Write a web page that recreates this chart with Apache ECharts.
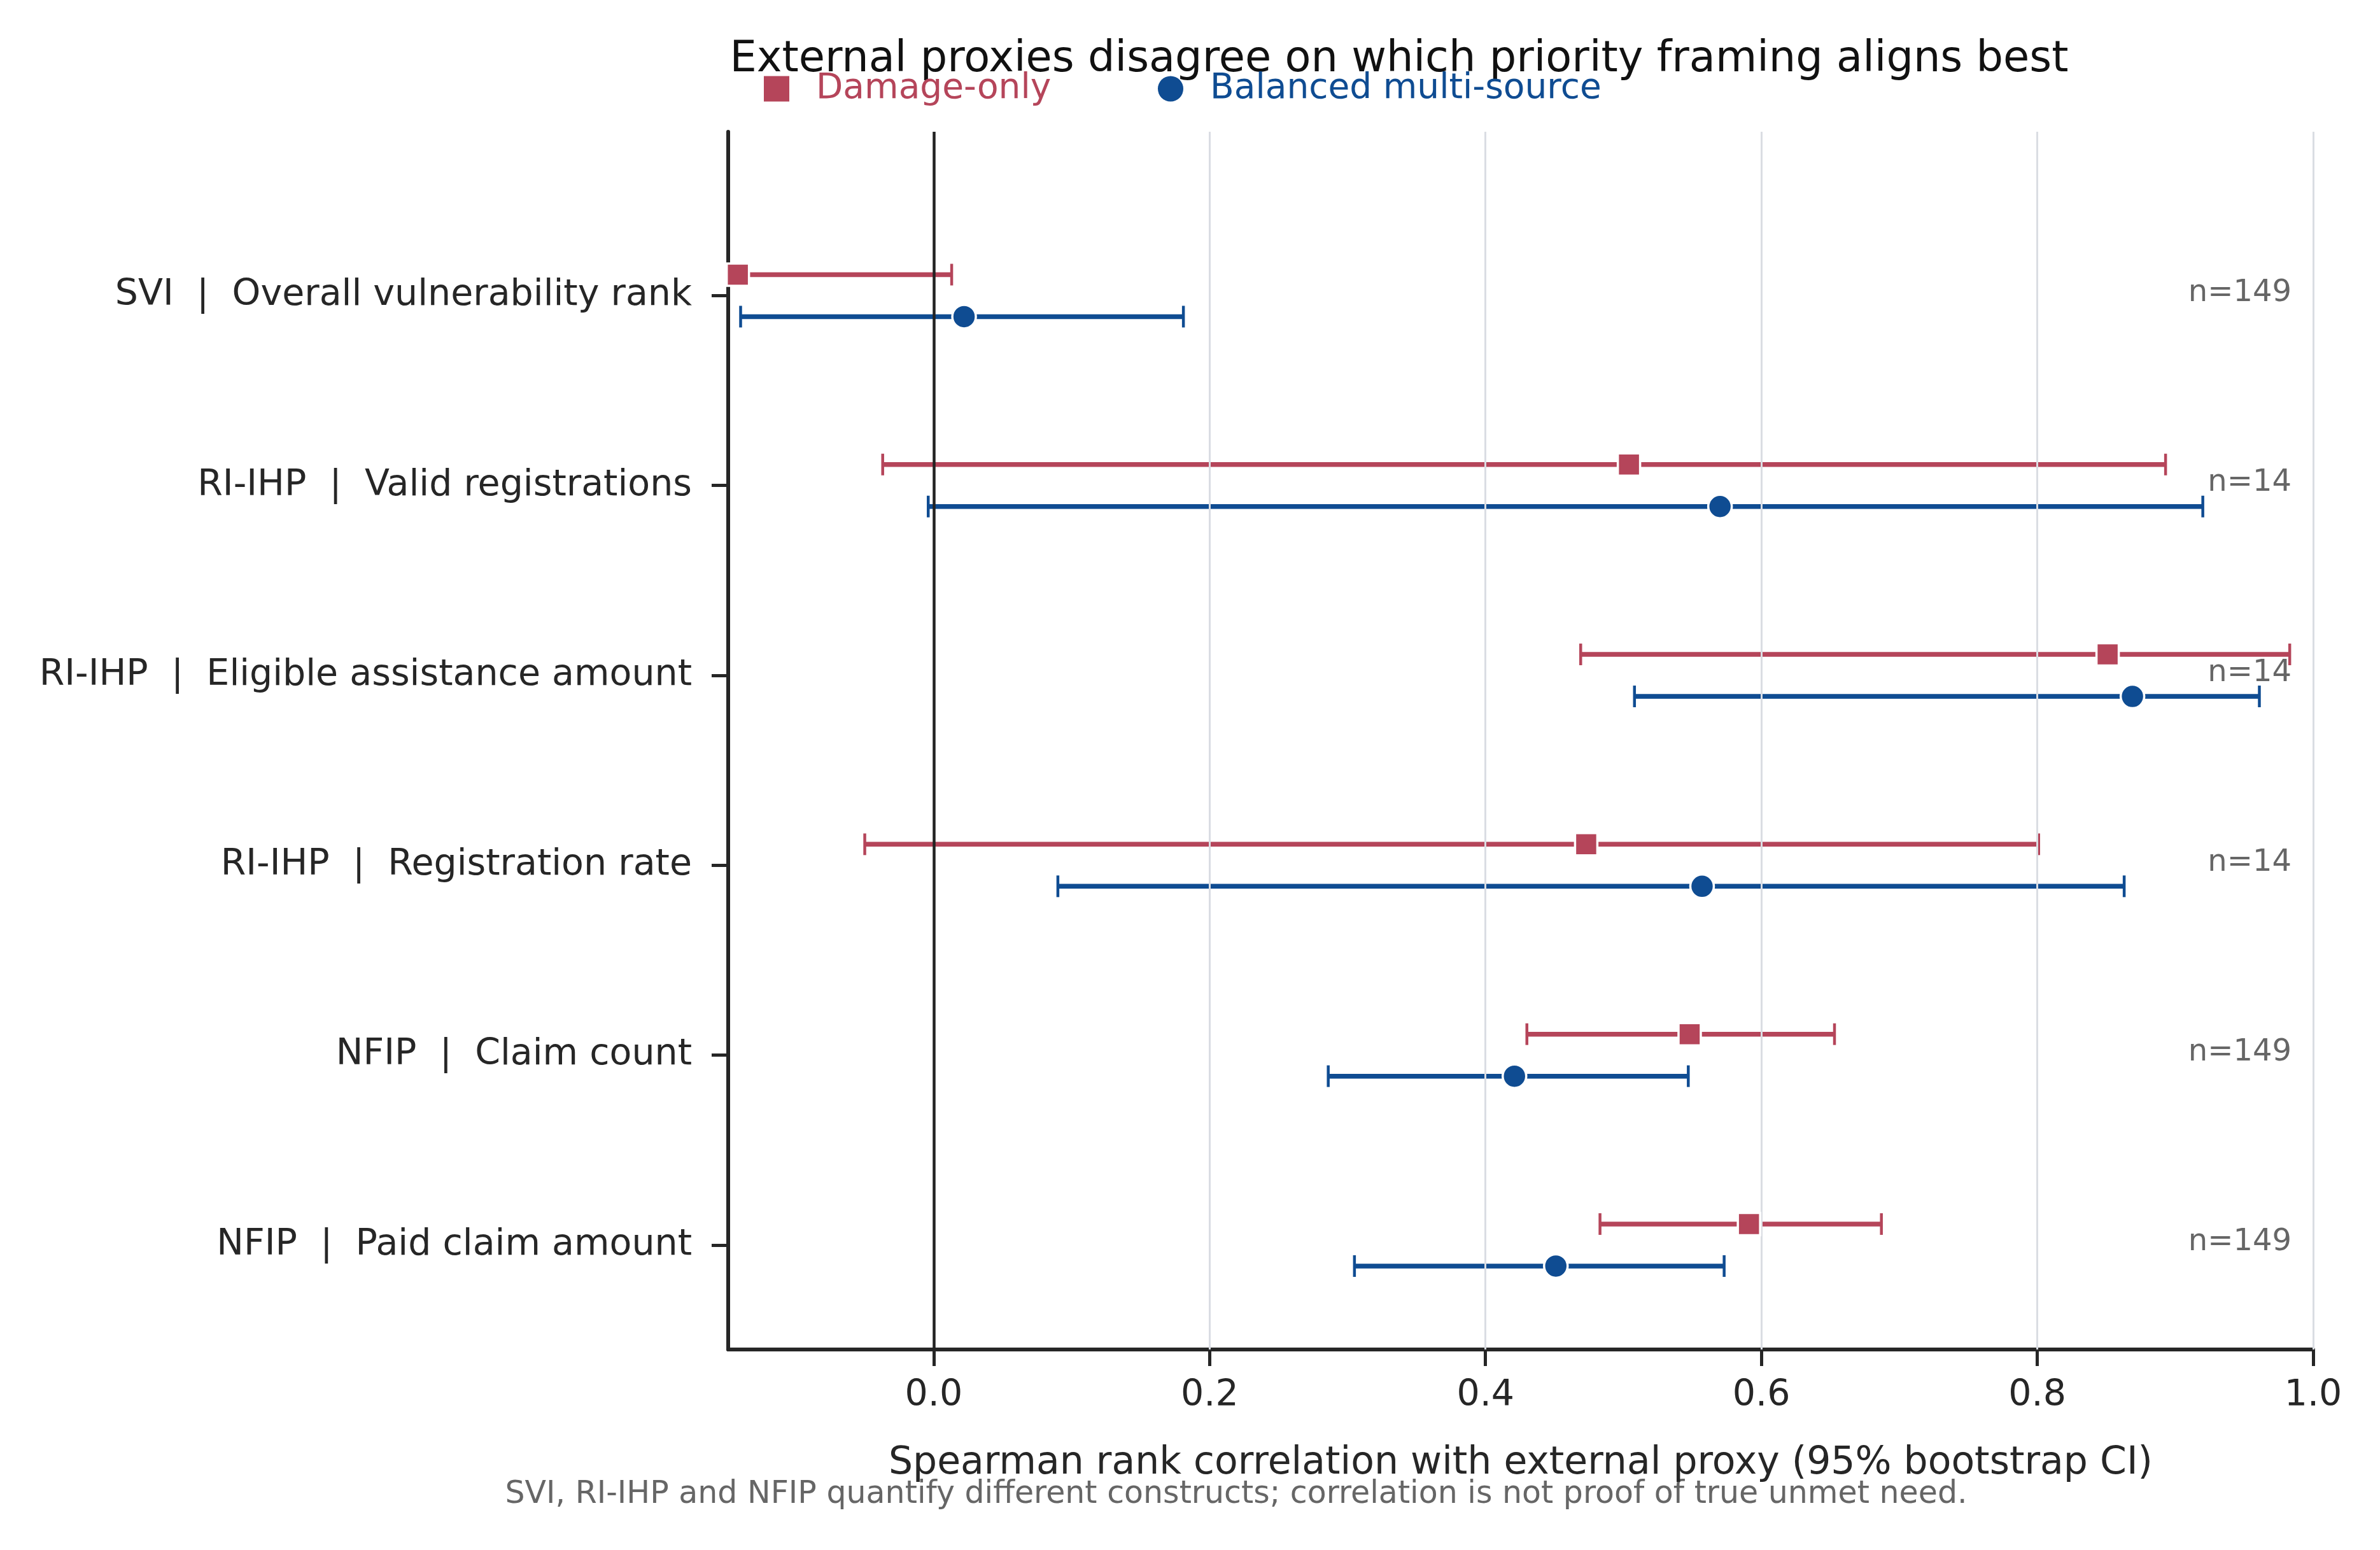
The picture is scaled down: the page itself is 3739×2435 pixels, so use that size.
<!DOCTYPE html>
<html><head><meta charset="utf-8">
<script src="https://cdn.jsdelivr.net/npm/echarts@6/dist/echarts.min.js"></script>
<style>html,body{margin:0;padding:0;background:#fff}#c{width:3739px;height:2435px}</style>
</head><body><div id="c"></div>
<script>
const categories = ['SVI  |  Overall vulnerability rank', 'RI-IHP  |  Valid registrations', 'RI-IHP  |  Eligible assistance amount', 'RI-IHP  |  Registration rate', 'NFIP  |  Claim count', 'NFIP  |  Paid claim amount'];
const sampleSizes = [149, 14, 14, 14, 149, 149];
const damageEst = [-0.142, 0.504, 0.851, 0.473, 0.548, 0.591];
const damageLow = [-0.30, -0.037, 0.469, -0.050, 0.430, 0.483];
const damageHigh = [0.013, 0.893, 0.983, 0.801, 0.653, 0.687];
const balancedEst = [0.022, 0.570, 0.869, 0.557, 0.421, 0.451];
const balancedLow = [-0.140, -0.004, 0.508, 0.090, 0.286, 0.305];
const balancedHigh = [0.181, 0.920, 0.961, 0.863, 0.547, 0.573];
const xTicks = [0, 0.2, 0.4, 0.6, 0.8, 1.0];
const gridValues = [0.2, 0.4, 0.6, 0.8, 1.0];
const yTicks = [0, 1, 2, 3, 4, 5];

const RED = '#B5455A';
const BLUE = '#0F4C92';
const INK = '#262626';
const FONT = 'DejaVu Sans';
const OFFSET = 33;

function errorBars(name, low, high, color, dir) {
  return {
    type: 'custom', name: name, clip: true, z: 3, silent: true,
    data: low.map((lo, i) => [lo, high[i], i]),
    encode: { x: [0, 1], y: 2 },
    renderItem: function (params, api) {
      const a = api.coord([api.value(0), api.value(2)]);
      const b = api.coord([api.value(1), api.value(2)]);
      const y = a[1] + dir * OFFSET;
      const h = 17;
      return { type: 'group', children: [
        { type: 'line', shape: { x1: a[0], y1: y, x2: b[0], y2: y }, style: { stroke: color, lineWidth: 7.5 } },
        { type: 'line', shape: { x1: a[0], y1: y - h, x2: a[0], y2: y + h }, style: { stroke: color, lineWidth: 4.5 } },
        { type: 'line', shape: { x1: b[0], y1: y - h, x2: b[0], y2: y + h }, style: { stroke: color, lineWidth: 4.5 } }
      ] };
    }
  };
}

const chart = echarts.init(document.getElementById('c'), null, { renderer: 'canvas' });
chart.setOption({
  animation: false,
  backgroundColor: '#ffffff',
  textStyle: { fontFamily: FONT },
  grid: { left: 1144, right: 105, top: 207, bottom: 315 },
  legend: [
    { left: 1200, top: 112, padding: 0, itemWidth: 40, itemHeight: 40, selectedMode: false,
      data: [{ name: 'Damage-only', icon: 'rect', itemStyle: { color: RED, borderWidth: 0 }, textStyle: { color: RED } }],
      textStyle: { fontSize: 55, fontFamily: FONT, color: RED, padding: [0, 0, 0, 37] } },
    { left: 1819, top: 112, padding: 0, itemWidth: 40, itemHeight: 40, selectedMode: false,
      data: [{ name: 'Balanced multi-source', icon: 'circle', itemStyle: { color: BLUE, borderWidth: 0 }, textStyle: { color: BLUE } }],
      textStyle: { fontSize: 55, fontFamily: FONT, color: BLUE, padding: [0, 0, 0, 37] } }
  ],
  graphic: [
    { type: 'text', x: 2198, y: 95, silent: true,
      style: { text: 'External proxies disagree on which priority framing aligns best', font: '67px "DejaVu Sans"', fill: '#111111', align: 'center', verticalAlign: 'middle' } },
    { type: 'text', x: 1942, y: 2348, silent: true,
      style: { text: 'SVI, RI-IHP and NFIP quantify different constructs; correlation is not proof of true unmet need.', font: '49px "DejaVu Sans"', fill: '#666666', align: 'center', verticalAlign: 'middle' } }
  ],
  xAxis: {
    type: 'value', min: -0.149, max: 1.0,
    axisLine: { show: true, onZero: false, lineStyle: { color: INK, width: 6 } },
    axisTick: { show: true, length: 26, lineStyle: { color: INK, width: 5 }, customValues: xTicks },
    axisLabel: { customValues: xTicks, formatter: v => Number(v).toFixed(1), fontSize: 57, color: INK, margin: 45, fontFamily: FONT },
    splitLine: { show: false },
    name: 'Spearman rank correlation with external proxy (95% bootstrap CI)',
    nameLocation: 'middle', nameGap: 149,
    nameTextStyle: { fontSize: 60, color: INK, fontFamily: FONT }
  },
  yAxis: {
    type: 'value', inverse: true, min: -0.863, max: 5.55,
    axisLine: { show: true, onZero: false, lineStyle: { color: INK, width: 6 } },
    axisTick: { show: true, length: 26, lineStyle: { color: INK, width: 5 }, customValues: yTicks },
    axisLabel: { customValues: yTicks, formatter: v => categories[Math.round(v)] || '', fontSize: 57, color: INK, margin: 57, fontFamily: FONT },
    splitLine: { show: false }
  },
  series: [
    { type: 'scatter', name: '_grid', data: [], silent: true, z: 1,
      markLine: { silent: true, symbol: ['none', 'none'], label: { show: false }, animation: false,
        data: gridValues.map(v => ({ xAxis: v, lineStyle: { color: '#DADDE3', width: 3, type: 'solid' } }))
          .concat([{ xAxis: 0, lineStyle: { color: '#222222', width: 4.5, type: 'solid' } }]) } },
    errorBars('Damage-only', damageLow, damageHigh, RED, -1),
    errorBars('Balanced multi-source', balancedLow, balancedHigh, BLUE, 1),
    { type: 'scatter', name: 'Damage-only', z: 5, symbol: 'rect', symbolSize: 35, symbolOffset: [0, -OFFSET],
      data: damageEst.map((v, i) => [v, i]),
      itemStyle: { color: RED, borderColor: '#ffffff', borderWidth: 3.5, opacity: 1 }, emphasis: { disabled: true } },
    { type: 'scatter', name: 'Balanced multi-source', z: 5, symbol: 'circle', symbolSize: 37, symbolOffset: [0, OFFSET],
      data: balancedEst.map((v, i) => [v, i]),
      itemStyle: { color: BLUE, borderColor: '#ffffff', borderWidth: 3.5, opacity: 1 }, emphasis: { disabled: true } },
    { type: 'custom', name: '_n', z: 6, silent: true,
      data: sampleSizes.map((n, i) => [n, i]),
      encode: { y: 1 },
      renderItem: function (params, api) {
        const p = api.coord([0, api.value(1)]);
        const cs = params.coordSys;
        return { type: 'text', x: cs.x + cs.width - 34, y: p[1] - 4,
          style: { text: 'n=' + api.value(0), fill: '#666666', font: '48px "DejaVu Sans"', align: 'right', verticalAlign: 'middle' } };
      } }
  ]
});
</script>
</body></html>
